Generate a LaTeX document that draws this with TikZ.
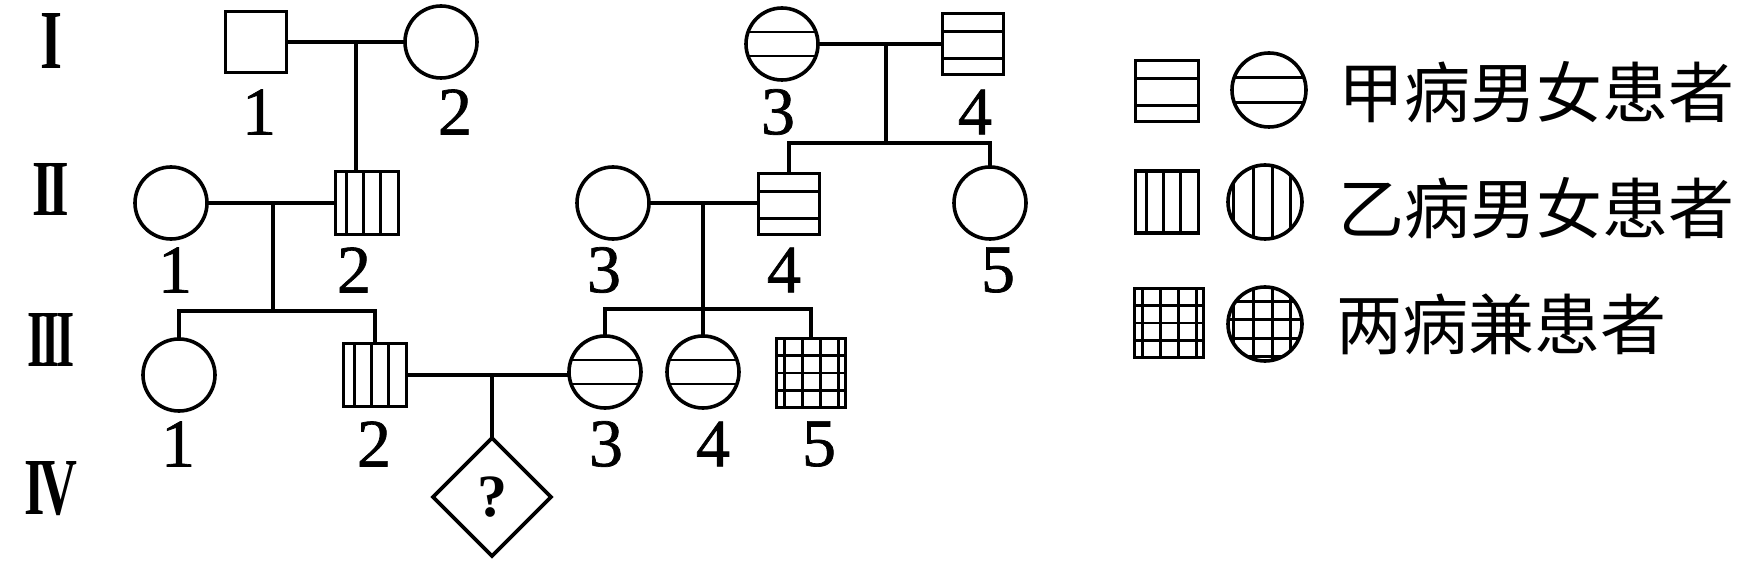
\documentclass[tikz,border=0pt]{standalone}
\usepackage{fontspec}
\usepackage{graphicx}
\setmainfont{Liberation Serif}
\newfontface\numface[FakeBold=1]{Liberation Serif}
\newfontfamily\cjk{Noto Sans CJK SC}
\usetikzlibrary{shapes.geometric,calc}
\newlength\pxu \setlength\pxu{0.5pt}
\newcommand\hatchH[1]{\draw[hatch] ($(path picture bounding box.north west)!#1!(path picture bounding box.south west)$) -- ($(path picture bounding box.north east)!#1!(path picture bounding box.south east)$);}
\newcommand\hatchV[1]{\draw[hatch] ($(path picture bounding box.north west)!#1!(path picture bounding box.north east)$) -- ($(path picture bounding box.south west)!#1!(path picture bounding box.south east)$);}
\tikzset{
  ind/.style={draw, line width=1.8pt, inner sep=0pt, outer sep=0pt},
  male/.style={ind, rectangle, minimum size=30.5pt},
  female/.style={ind, circle, minimum size=36pt},
  hatch/.style={line width=1.45pt},
  jiaM/.style={path picture={\hatchH{0.3}\hatchH{0.74}}},
  jiaF/.style={path picture={\hatchH{0.333}\hatchH{0.667}}},
  yiM/.style={path picture={\hatchV{0.17}\hatchV{0.45}\hatchV{0.72}}},
  yiF/.style={path picture={\hatchV{0.08}\hatchV{0.35}\hatchV{0.6}\hatchV{0.85}}},
  bothM/.style={path picture={\hatchV{0.12}\hatchV{0.38}\hatchV{0.64}\hatchV{0.9}\hatchH{0.25}\hatchH{0.5}\hatchH{0.75}}},
  bothF/.style={path picture={\hatchV{0.08}\hatchV{0.35}\hatchV{0.6}\hatchV{0.85}\hatchH{0.19}\hatchH{0.44}\hatchH{0.69}\hatchH{0.94}}},
  lbl/.style={font=\numface\fontsize{34}{34}\selectfont, inner sep=0pt},
  gen/.style={inner sep=0pt},
  conn/.style={line width=1.65pt},
  legtext/.style={font=\cjk\fontsize{33}{33}\selectfont, anchor=west, inner sep=0pt}
}
\begin{document}
\begin{tikzpicture}[x=0.5pt,y=-0.5pt]
\useasboundingbox (0,0) rectangle (1746,572);
% generation numerals
\node[gen] (gI) at (51,41) {\resizebox{22\pxu}{55\pxu}{\bfseries I}};
\node[gen] (gII) at (51,189) {\resizebox{37\pxu}{52\pxu}{\bfseries I\kern-0.08em I}};
\node[gen] (gIII) at (51,340) {\resizebox{47\pxu}{53\pxu}{\bfseries I\kern-0.08em I\kern-0.08em I}};
\node[gen] (gIV) at (51,489) {\resizebox{53\pxu}{53\pxu}{\bfseries I\kern-0.1em V}};
% generation I
\node[male] (I1) at (256,42) {};
\node[female] (I2) at (441,42) {};
\node[female,jiaF] (I3) at (782,44) {};
\node[male,jiaM] (I4) at (973,44) {};
\node[lbl] (lI1) at (259,112) {1};
\node[lbl] (lI2) at (455,112) {2};
\node[lbl] (lI3) at (778,112) {3};
\node[lbl] (lI4) at (975,112) {4};
% generation II
\node[female] (II1) at (171,203) {};
\node[male,yiM,minimum size=31.5pt] (II2) at (367,203) {};
\node[female] (II3) at (613,203) {};
\node[male,jiaM] (II4) at (789,204) {};
\node[female] (II5) at (990,203) {};
\node[lbl] (lII1) at (175,270) {1};
\node[lbl] (lII2) at (354,270) {2};
\node[lbl] (lII3) at (604,270) {3};
\node[lbl] (lII4) at (784,270) {4};
\node[lbl] (lII5) at (998,270) {5};
% generation III
\node[female] (III1) at (179,375) {};
\node[male,yiM,minimum size=31.5pt] (III2) at (375,375) {};
\node[female,jiaF] (III3) at (605,372) {};
\node[female,jiaF] (III4) at (703,372) {};
\node[male,bothM,minimum size=34.5pt] (III5) at (811,373) {};
\node[lbl] (lIII1) at (178,444) {1};
\node[lbl] (lIII2) at (374,444) {2};
\node[lbl] (lIII3) at (606,444) {3};
\node[lbl] (lIII4) at (713,444) {4};
\node[lbl] (lIII5) at (819,444) {5};
% generation IV
\node[ind, diamond, minimum width=59pt, minimum height=59pt, font=\bfseries\fontsize{30}{30}\selectfont] (IV1) at (492,497) {?};
% junctions
\coordinate (m1) at (356,42);
\coordinate (m2) at (886,44);
\coordinate (s2) at (886,143);
\coordinate (m3) at (273,203);
\coordinate (s3) at (273,311);
\coordinate (m4) at (703,203);
\coordinate (s4) at (703,309);
\coordinate (m5) at (492,375);
% connectors
\draw[conn] (I1) -- (I2);
\draw[conn] (m1) -- (m1 |- II2.north);
\draw[conn] (I3) -- (I4);
\draw[conn] (m2) -- (s2);
\draw[conn] (II4.north) |- (s2) -| (II5.north);
\draw[conn] (II1) -- (II2);
\draw[conn] (m3) -- (s3);
\draw[conn] (III1.north) |- (s3) -| (III2.north);
\draw[conn] (II3) -- (II4.west |- II3);
\draw[conn] (m4) -- (III4.north);
\draw[conn] (III3.north) |- (s4) -| (III5.north);
\draw[conn] (III2) -- (III2 -| III3.west);
\draw[conn] (m5) -- (IV1.north);
% legend
\node[male,jiaM,minimum width=31.5pt,minimum height=30.5pt] (L1m) at (1167,91) {};
\node[female,jiaF,minimum size=37pt] (L1f) at (1269,90) {};
\node[legtext] (L1t) at (1338,92) {甲病男女患者};
\node[male,yiM,minimum width=31.5pt,minimum height=31pt] (L2m) at (1167,202) {};
\node[female,yiF,minimum size=37pt] (L2f) at (1265,202) {};
\node[legtext] (L2t) at (1338,208) {乙病男女患者};
\node[male,bothM,minimum size=34.5pt] (L3m) at (1169,323) {};
\node[female,bothF,minimum size=37pt] (L3f) at (1265,324) {};
\node[legtext] (L3t) at (1336,324) {两病兼患者};
\end{tikzpicture}
\end{document}
